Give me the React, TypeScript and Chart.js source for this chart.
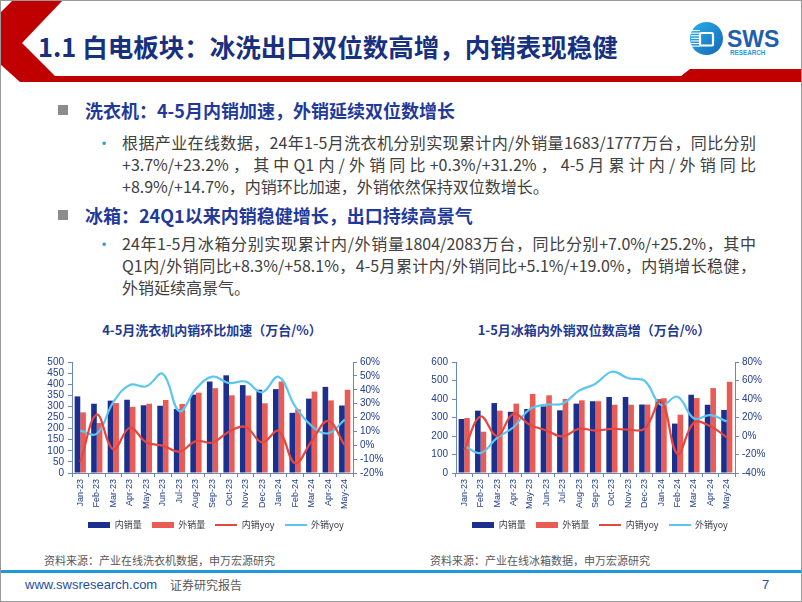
import React, { useEffect, useRef } from "react";
import { Chart, registerables } from "chart.js";

Chart.register(...registerables);

// ---------- data ----------
const months = [
  "Jan-23", "Feb-23", "Mar-23", "Apr-23", "May-23", "Jun-23", "Jul-23", "Aug-23",
  "Sep-23", "Oct-23", "Nov-23", "Dec-23", "Jan-24", "Feb-24", "Mar-24", "Apr-24", "May-24",
];
const seriesNames = ["内销量", "外销量", "内销yoy", "外销yoy"];

// 洗衣机 (万台 / %)
const washerDomestic = [345, 312, 326, 330, 305, 303, 288, 353, 412, 440, 396, 375, 378, 271, 335, 388, 304];
const washerExport = [273, 225, 315, 298, 312, 329, 311, 362, 382, 350, 349, 314, 412, 287, 367, 327, 375];
const washerDomesticYoy = [-12, 22, -3, 12.6, 2, -0.3, -4.6, 3, 2, 9.8, 13.2, 2.1, 10.3, -13, 3, 17.5, 0];
const washerExportYoy = [10.5, 8.3, 31, 43.5, 42.5, 51.5, 24.5, 40.7, 49.5, 44.8, 45.9, 38.2, 49.4, 28, 14, 8.6, 18.5];

// 冰箱 (万台 / %)
const fridgeDomestic = [292, 337, 378, 331, 346, 360, 339, 375, 388, 411, 411, 370, 398, 267, 423, 369, 341];
const fridgeExport = [297, 223, 337, 375, 427, 420, 400, 393, 388, 369, 369, 370, 404, 315, 405, 459, 493];
const fridgeDomesticYoy = [-15, 21, 0, 24, 12.2, 6, -0.4, 7.8, 5.8, 7.8, 6.8, 8, 38, -19.5, 14.5, 10.5, -1.5];
const fridgeExportYoy = [-10.5, -18.4, -2, 9.5, 29, 34, 35, 49, 56.5, 69.5, 62.5, 59.5, 33.5, 42.5, 19, 22.5, 15.8];

// ---------- styles ----------
const NAVY = "#1b2f8f";
const RED_BAR = "#ea5b55";
const RED_LINE = "#e5473e";
const CYAN = "#5cc6f0";
const AXIS = "#6a86c0";
const TICK_TEXT = "#23408e";
const CJK = "'Noto Sans CJK SC', 'Noto Sans', sans-serif";
const LATIN = "'Liberation Sans', Arial, sans-serif";

function swatch(color: string, w: number, h: number) {
  const c = document.createElement("canvas");
  c.width = w;
  c.height = h;
  const ctx = c.getContext("2d")!;
  ctx.fillStyle = color;
  ctx.fillRect(0, 0, w, h);
  return c;
}

type ComboProps = {
  left: number; top: number; width: number; height: number;
  domestic: number[]; exported: number[]; domYoy: number[]; expYoy: number[];
  leftMax: number; leftStep: number;
  rightMin: number; rightMax: number; rightStep: number;
  leftAxisWidth: number; rightAxisWidth: number;
};

function ComboChart(p: ComboProps) {
  const ref = useRef<HTMLCanvasElement>(null);
  useEffect(() => {
    const tickFont = { size: 10, family: LATIN };
    const chart = new Chart(ref.current!, {
      type: "bar",
      data: {
        labels: months,
        datasets: [
          { type: "bar", label: seriesNames[0], data: p.domestic, backgroundColor: NAVY, yAxisID: "y", order: 2, categoryPercentage: 0.68, barPercentage: 1 },
          { type: "bar", label: seriesNames[1], data: p.exported, backgroundColor: RED_BAR, yAxisID: "y", order: 2, categoryPercentage: 0.68, barPercentage: 1 },
          { type: "line", label: seriesNames[2], data: p.domYoy, borderColor: RED_LINE, backgroundColor: RED_LINE, borderWidth: 2.2, pointRadius: 0, tension: 0.4, yAxisID: "y1", order: 1 },
          { type: "line", label: seriesNames[3], data: p.expYoy, borderColor: CYAN, backgroundColor: CYAN, borderWidth: 2.2, pointRadius: 0, tension: 0.4, yAxisID: "y1", order: 1 },
        ] as any,
      },
      options: {
        responsive: false,
        animation: false,
        layout: { padding: { top: 12, bottom: 3, left: 0, right: 0 } },
        plugins: {
          tooltip: { enabled: false },
          legend: {
            position: "bottom",
            labels: {
              usePointStyle: true,
              pointStyleWidth: 22,
              boxHeight: 9,
              padding: 10,
              color: "#3a3a48",
              font: { size: 9, family: CJK },
              generateLabels: (c: any) =>
                c.data.datasets.map((ds: any, i: number) => ({
                  text: ds.label,
                  pointStyle: ds.type === "line" ? swatch(ds.borderColor, 22, 2) : swatch(ds.backgroundColor, 22, 6),
                  fillStyle: ds.backgroundColor,
                  strokeStyle: ds.backgroundColor,
                  lineWidth: 0,
                  hidden: false,
                  datasetIndex: i,
                  fontColor: "#3a3a48",
                })),
            },
          },
        },
        scales: {
          x: {
            offset: true,
            grid: { display: true, offset: true, drawOnChartArea: false, drawTicks: true, tickLength: 4, color: AXIS },
            border: { display: true, color: AXIS, width: 1 },
            ticks: {
              autoSkip: false, maxRotation: 90, minRotation: 90, padding: 2, color: TICK_TEXT,
              font: { size: 9, family: "'Liberation Sans Narrow', 'Liberation Sans', Arial, sans-serif" },
            },
            afterFit: (s: any) => { s.height = 37; },
          },
          y: {
            position: "left", min: 0, max: p.leftMax,
            grid: { drawOnChartArea: false, drawTicks: true, tickLength: 4, color: AXIS },
            border: { display: true, color: AXIS, width: 1 },
            ticks: { stepSize: p.leftStep, autoSkip: false, color: TICK_TEXT, font: tickFont, padding: 4 },
            afterFit: (s: any) => { s.width = p.leftAxisWidth; },
          },
          y1: {
            position: "right", min: p.rightMin, max: p.rightMax,
            grid: { drawOnChartArea: false, drawTicks: true, tickLength: 4, color: AXIS },
            border: { display: true, color: AXIS, width: 1 },
            ticks: { stepSize: p.rightStep, autoSkip: false, color: TICK_TEXT, font: tickFont, padding: 3, callback: (v: any) => `${v}%` },
            afterFit: (s: any) => { s.width = p.rightAxisWidth; },
          },
        },
      } as any,
    });
    return () => chart.destroy();
  }, []);
  return (
    <canvas
      ref={ref}
      width={p.width}
      height={p.height}
      style={{ position: "absolute", left: p.left, top: p.top, width: p.width, height: p.height }}
    />
  );
}

const abs = (style: React.CSSProperties): React.CSSProperties => ({ position: "absolute", whiteSpace: "nowrap", ...style });

export default function App() {
  useEffect(() => {
    document.body.style.margin = "0";
  }, []);
  const bodyText: React.CSSProperties = { fontFamily: CJK, fontSize: 16, color: "#404040", lineHeight: "22px" };
  const justLine: React.CSSProperties = { textAlign: "justify", textAlignLast: "justify" as any, whiteSpace: "nowrap" };
  return (
    <div style={{ position: "absolute", left: 0, top: 0, width: 802, height: 602, background: "#fff", overflow: "hidden", fontFamily: CJK }}>
      <svg width={802} height={602} style={{ position: "absolute", left: 0, top: 0 }}>
        <polygon points="13,0 63,0 22,43 55,76 681,76 690,69 802,69 802,82 20,82 0,64 0,13" fill="#c00000" />
        <rect x={0} y={570} width={802} height={3} fill="#1e9ad6" />
        <rect x={0.5} y={0.5} width={801} height={601} fill="none" stroke="#9a9a9a" strokeWidth={1} />
        {/* logo */}
        <defs>
          <linearGradient id="lg" x1="0" y1="0" x2="1" y2="1">
            <stop offset="0" stopColor="#29b2ea" />
            <stop offset="1" stopColor="#1565b8" />
          </linearGradient>
        </defs>
        <circle cx={706.5} cy={38.5} r={16.5} fill="url(#lg)" />
        {[0, 1, 2, 3, 4, 5, 6].map((i) => (
          <rect key={i} x={691} y={30 + i * 2.6} width={9} height={1.1} fill="#ffffff" />
        ))}
        <rect x={700} y={33} width={13} height={12.5} rx={1.5} fill="none" stroke="#ffffff" strokeWidth={2.2} />
        <text x={727} y={47} fontFamily="'Liberation Sans', Arial" fontWeight="bold" fontSize={23} fill="#1f5fae">SWS</text>
        <text x={730} y={54.5} fontFamily="'Liberation Sans', Arial" fontWeight="bold" fontSize={6.3} fill="#1f9ad6">RESEARCH</text>
      </svg>

      <div style={abs({ left: 38, top: 31, fontSize: 25.5, lineHeight: "30px", fontWeight: 700, color: "#17307f", fontFamily: CJK })}>
        1.1 白电板块：冰洗出口双位数高增，内销表现稳健
      </div>

      {/* section 1 */}
      <div style={abs({ left: 58, top: 105, width: 10, height: 10, background: "#8c8c8c" })} />
      <div style={abs({ left: 85, top: 98, fontSize: 18, lineHeight: "24px", fontWeight: 700, color: "#1f3a9b" })}>
        洗衣机：4-5月内销加速，外销延续双位数增长
      </div>
      <div style={abs({ left: 96, top: 131, fontSize: 16, lineHeight: "22px", color: "#2aa0d8" })}>•</div>
      <div style={{ ...bodyText, position: "absolute", left: 122, top: 131, width: 634 }}>
        <div style={justLine}>根据产业在线数据，24年1-5月洗衣机分别实现累计内/外销量1683/1777万台，同比分别</div>
        <div style={justLine}>+3.7%/+23.2%，其中Q1内/外销同比+0.3%/+31.2%，4-5月累计内/外销同比</div>
        <div style={{ whiteSpace: "nowrap" }}>+8.9%/+14.7%，内销环比加速，外销依然保持双位数增长。</div>
      </div>

      {/* section 2 */}
      <div style={abs({ left: 58, top: 210, width: 10, height: 10, background: "#8c8c8c" })} />
      <div style={abs({ left: 85, top: 203, fontSize: 18, lineHeight: "24px", fontWeight: 700, color: "#1f3a9b" })}>
        冰箱：24Q1以来内销稳健增长，出口持续高景气
      </div>
      <div style={abs({ left: 96, top: 232, fontSize: 16, lineHeight: "22px", color: "#2aa0d8" })}>•</div>
      <div style={{ ...bodyText, position: "absolute", left: 122, top: 232, width: 634 }}>
        <div style={justLine}>24年1-5月冰箱分别实现累计内/外销量1804/2083万台，同比分别+7.0%/+25.2%，其中</div>
        <div style={justLine}>Q1内/外销同比+8.3%/+58.1%，4-5月累计内/外销同比+5.1%/+19.0%，内销增长稳健，</div>
        <div style={{ whiteSpace: "nowrap" }}>外销延续高景气。</div>
      </div>

      {/* chart titles */}
      <div style={abs({ left: 212, top: 321, transform: "translateX(-50%)", fontSize: 13, lineHeight: "18px", fontWeight: 700, color: "#1f3a93" })}>
        4-5月洗衣机内销环比加速（万台/%）
      </div>
      <div style={abs({ left: 594, top: 321, transform: "translateX(-50%)", fontSize: 13, lineHeight: "18px", fontWeight: 700, color: "#1f3a93" })}>
        1-5月冰箱内外销双位数高增（万台/%）
      </div>

      <ComboChart
        left={30} top={350} width={372} height={192}
        domestic={washerDomestic} exported={washerExport} domYoy={washerDomesticYoy} expYoy={washerExportYoy}
        leftMax={500} leftStep={50} rightMin={-20} rightMax={60} rightStep={10}
        leftAxisWidth={42} rightAxisWidth={49}
      />
      <ComboChart
        left={420} top={350} width={360} height={192}
        domestic={fridgeDomestic} exported={fridgeExport} domYoy={fridgeDomesticYoy} expYoy={fridgeExportYoy}
        leftMax={600} leftStep={100} rightMin={-40} rightMax={80} rightStep={20}
        leftAxisWidth={36} rightAxisWidth={45}
      />

      {/* sources */}
      <div style={abs({ left: 44, top: 552, fontSize: 11, lineHeight: "16px", color: "#595959" })}>
        资料来源：产业在线洗衣机数据，申万宏源研究
      </div>
      <div style={abs({ left: 430, top: 552, fontSize: 11, lineHeight: "16px", color: "#595959" })}>
        资料来源：产业在线冰箱数据，申万宏源研究
      </div>

      {/* footer */}
      <div style={abs({ left: 25, top: 577, fontSize: 13, lineHeight: "16px", color: "#1f4e9c", fontFamily: LATIN })}>
        www.swsresearch.com
      </div>
      <div style={abs({ left: 170, top: 577, fontSize: 12, lineHeight: "16px", color: "#595959" })}>
        证券研究报告
      </div>
      <div style={abs({ left: 762, top: 577, fontSize: 13, lineHeight: "16px", color: "#1f4e9c", fontFamily: LATIN })}>
        7
      </div>
    </div>
  );
}
